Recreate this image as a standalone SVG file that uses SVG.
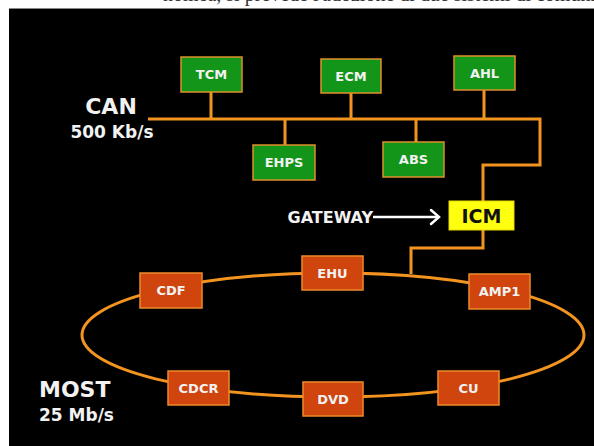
<svg xmlns="http://www.w3.org/2000/svg" width="594" height="446" viewBox="0 0 594 446">
<style>
.bg{fill:#000}
.bus{fill:none;stroke:#f39420;stroke-width:3;stroke-linejoin:miter}
.g rect{fill:#13951a;stroke:#e0902c;stroke-width:1.5}
.r rect{fill:#d0440e;stroke:#ee8a2a;stroke-width:1.5}
.lbl{font-family:"DejaVu Sans",Verdana,sans-serif;font-weight:bold;fill:#f2f2f2;text-anchor:middle;font-size:13px}
.big{font-family:"DejaVu Sans",Verdana,sans-serif;font-weight:bold;fill:#f2f2f2}
</style>
<rect x="0" y="0" width="594" height="446" fill="#fff"/>
<text x="163" y="1" font-family="'Liberation Serif',serif" font-size="20" fill="#333">nomea, si prevede l'adozione di due sistemi di comunicazione</text>
<rect class="bg" x="9" y="8" width="585" height="438"/>
<line x1="9" y1="8.5" x2="594" y2="8.5" stroke="#888" stroke-width="1"/>

<g id="connectors">
<path class="bus" d="M148 119 H540 V165 H483 V201"/>
<path class="bus" d="M211 92 V119 M351 93 V119 M484 90 V119 M285 119 V145 M416 119 V142"/>
<path class="bus" d="M483 230 V248 H411 V274"/>
<ellipse class="bus" cx="333" cy="335" rx="251" ry="62"/>
<line x1="373" y1="217" x2="438" y2="217" stroke="#fff" stroke-width="2.5"/>
<path d="M431 210 L439 217 L431 224" fill="none" stroke="#fff" stroke-width="2.5" stroke-linecap="round"/>
</g>

<g id="TCM" class="g"><rect x="181" y="57" width="61" height="35"/><text class="lbl" x="211.5" y="79">TCM</text></g>
<g id="ECM" class="g"><rect x="321" y="59" width="60" height="34"/><text class="lbl" x="351" y="80.5">ECM</text></g>
<g id="AHL" class="g"><rect x="454" y="56" width="61" height="34"/><text class="lbl" x="484.5" y="77.5">AHL</text></g>
<g id="EHPS" class="g"><rect x="253" y="145" width="62" height="35"/><text class="lbl" x="284" y="167">EHPS</text></g>
<g id="ABS" class="g"><rect x="383" y="142" width="61" height="35"/><text class="lbl" x="413.5" y="164">ABS</text></g>
<g id="ICM"><rect x="449" y="201" width="65" height="29" fill="#ffff10" stroke="#e8d800" stroke-width="1"/><text x="481.5" y="222.5" font-family="'DejaVu Sans',Verdana,sans-serif" font-weight="bold" font-size="19" text-anchor="middle" fill="#111">ICM</text></g>

<g id="CDF" class="r"><rect x="140" y="273" width="62" height="35"/><text class="lbl" x="171" y="295">CDF</text></g>
<g id="EHU" class="r"><rect x="302" y="256" width="61" height="34"/><text class="lbl" x="332.5" y="277.5">EHU</text></g>
<g id="AMP1" class="r"><rect x="469" y="274" width="61" height="35"/><text class="lbl" x="499.5" y="296">AMP1</text></g>
<g id="CDCR" class="r"><rect x="168" y="371" width="61" height="34"/><text class="lbl" x="198.5" y="392.5">CDCR</text></g>
<g id="DVD" class="r"><rect x="303" y="382" width="60" height="34"/><text class="lbl" x="333" y="403.5">DVD</text></g>
<g id="CU" class="r"><rect x="438" y="371" width="61" height="34"/><text class="lbl" x="468.5" y="392.5">CU</text></g>

<g id="CAN"><text class="big" x="111" y="114" font-size="22" text-anchor="middle">CAN</text><text class="big" x="112" y="138" font-size="17" text-anchor="middle">500 Kb/s</text></g>
<g id="MOST"><text class="big" x="39" y="397" font-size="22">MOST</text><text class="big" x="39" y="421" font-size="17">25 Mb/s</text></g>
<g id="GATEWAY"><text class="big" x="373" y="222.5" font-size="16" text-anchor="end">GATEWAY</text></g>
</svg>
